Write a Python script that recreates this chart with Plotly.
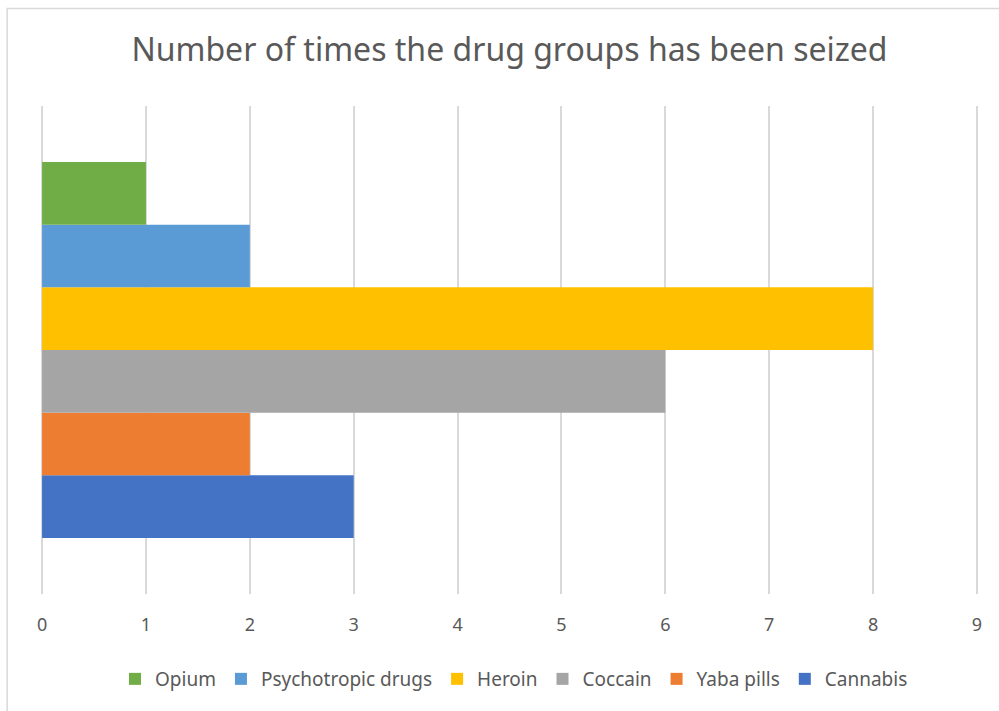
import plotly.graph_objects as go

# ---------- DATA ----------
category = ["Drug groups"]
drug_groups = ["Cannabis", "Yaba pills", "Coccain", "Heroin", "Psychotropic drugs", "Opium"]
seizures = [3, 2, 6, 8, 2, 1]
colors = ["#4472C4", "#ED7D31", "#A5A5A5", "#FFC000", "#5B9BD5", "#70AD47"]
x_ticks = [0, 1, 2, 3, 4, 5, 6, 7, 8, 9]

TEXT = "#595959"
GRID = "#D9D9D9"
FONT = "Noto Sans"
PAD = 0.02  # a little slack so plotly keeps the gridlines at 0 and 9

# ---------- PLOT ----------
fig = go.Figure()

# first trace sits at the bottom of the group, legend reversed so Opium comes first
for name, val, col in zip(drug_groups, seizures, colors):
    fig.add_trace(go.Bar(
        x=[val],
        y=category,
        name=name,
        orientation="h",
        marker=dict(color=col, line=dict(width=0)),
    ))

fig.update_xaxes(
    range=[-PAD, 9 + PAD],
    tickvals=x_ticks,
    showgrid=True,
    gridcolor=GRID,
    gridwidth=1.5,
    zeroline=False,
    showline=False,
    ticks="",
    ticklabelstandoff=18,
    tickfont=dict(size=18, color=TEXT, family=FONT),
)
fig.update_yaxes(showticklabels=False, showgrid=False, zeroline=False, showline=False)

# chart border, like the Excel chart area
fig.add_shape(
    type="rect", xref="paper", yref="paper",
    x0=-0.035, x1=1.04, y0=-0.25, y1=1.2,
    line=dict(color="#D9D9D9", width=1.5),
    fillcolor="rgba(0,0,0,0)", layer="below",
)

fig.update_layout(
    width=999,
    height=711,
    barmode="group",
    bargap=0.23,
    bargroupgap=0,
    plot_bgcolor="white",
    paper_bgcolor="white",
    margin=dict(l=40, r=20, t=106, b=117),
    font=dict(family=FONT, color=TEXT),
    title=dict(
        text="Number of times the drug groups has been seized",
        font=dict(size=32, color=TEXT, family=FONT),
        x=0.51, xanchor="center", xref="container",
        y=1 - 50 / 711, yanchor="middle", yref="container",
    ),
    legend=dict(
        orientation="h",
        traceorder="reversed",
        x=514 / 999, xanchor="center", xref="container",
        y=1 - 679 / 711, yanchor="middle", yref="container",
        font=dict(size=19, color=TEXT, family=FONT),
        itemwidth=30,
    ),
)

# drop the default page margin so the figure starts at the window corner
fig.write_html(
    "out.html",
    config={"displayModeBar": False},
    post_script="document.body.style.margin='0';",
)
